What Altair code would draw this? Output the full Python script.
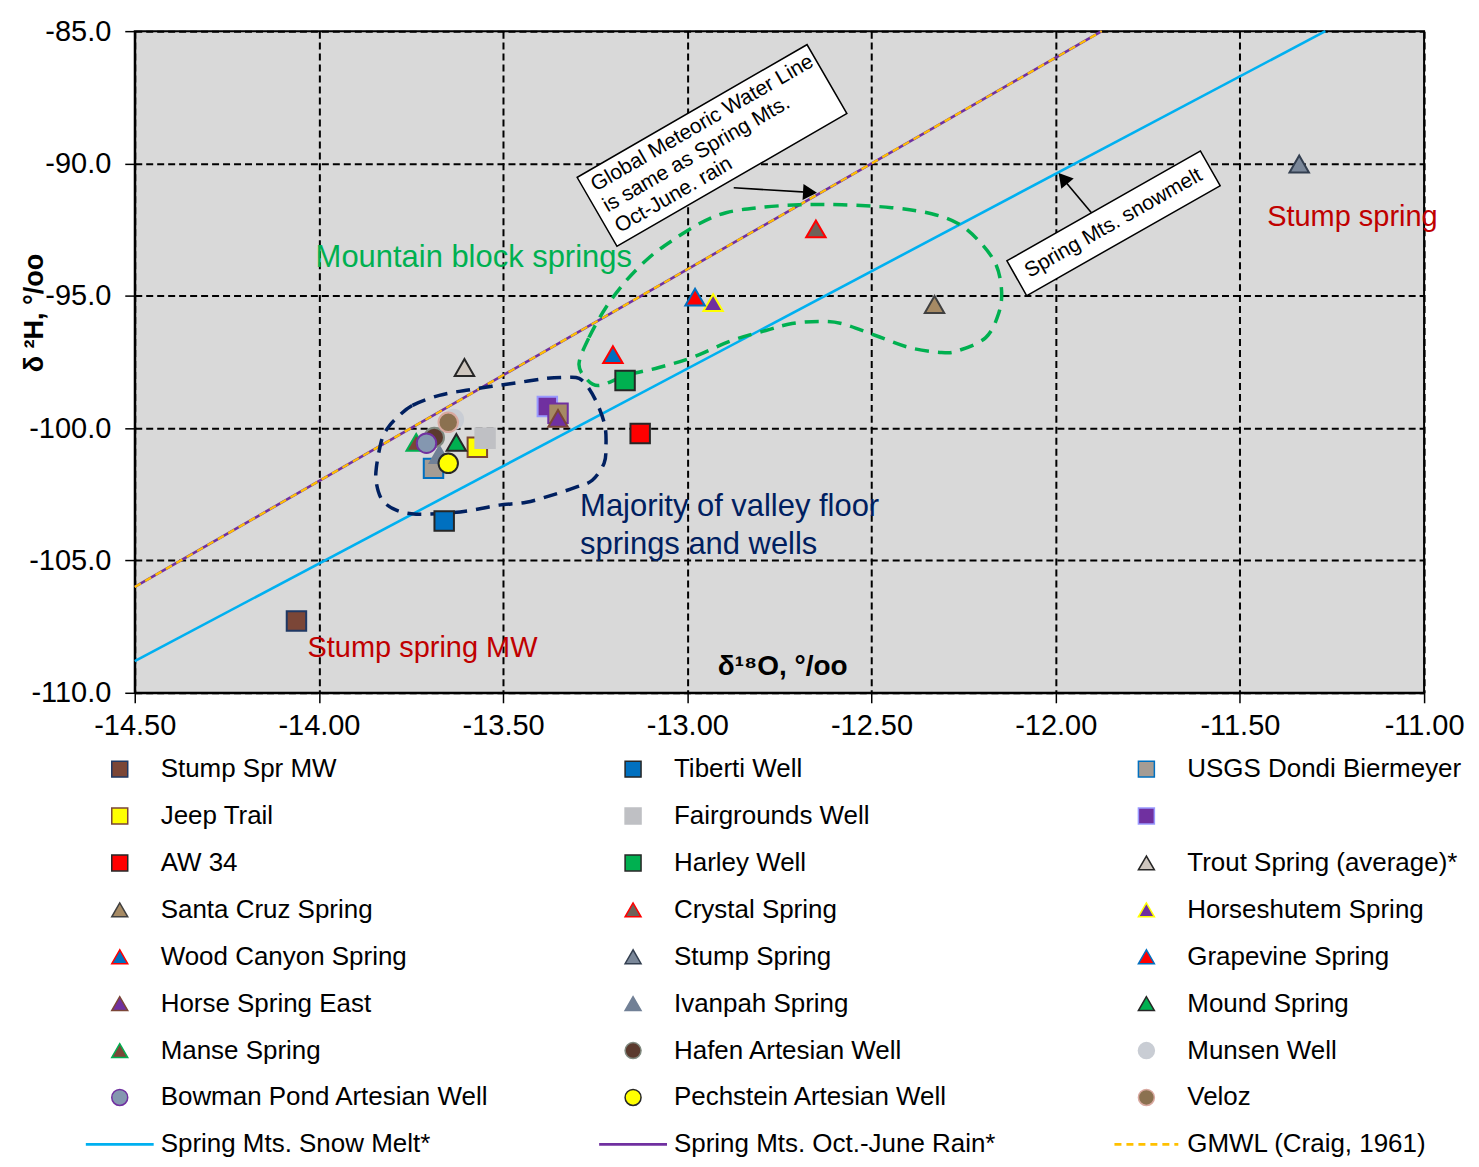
import altair as alt
import pandas as pd

FONT = "Liberation Sans"

# ---------------- data ----------------
site_names = [
    "Stump Spr MW", "Tiberti Well", "USGS Dondi Biermeyer", "Jeep Trail", "Fairgrounds Well",
    "Unnamed well", "Unlisted site", "AW 34", "Harley Well", "Trout Spring (average)*",
    "Santa Cruz Spring", "Crystal Spring", "Horseshutem Spring", "Wood Canyon Spring",
    "Stump Spring", "Grapevine Spring", "Horse Spring East", "Ivanpah Spring", "Mound Spring",
    "Manse Spring", "Hafen Artesian Well", "Munsen Well", "Bowman Pond Artesian Well",
    "Pechstein Artesian Well", "Veloz",
]
site_d18O = [
    -14.061, -13.660, -13.689, -13.570, -13.549,
    -13.380, -13.351, -13.128, -13.169, -13.605,
    -12.329, -12.651, -12.930, -13.202,
    -11.339, -12.979, -13.351, -13.673, -13.627,
    -13.736, -13.687, -13.635, -13.708,
    -13.649, -13.649,
]
site_d2H = [
    -107.29, -103.51, -101.52, -100.72, -100.38,
    -99.18, -99.44, -100.20, -98.20, -97.71,
    -95.33, -92.47, -95.26, -97.22,
    -90.02, -95.05, -99.63, -101.00, -100.54,
    -100.54, -100.35, -99.67, -100.57,
    -101.33, -99.78,
]

line_names = ["Spring Mts. Snow Melt*", "Spring Mts. Oct.-June Rain*", "GMWL (Craig, 1961)"]
line_d18O_start = [-14.5, -14.5, -14.5]
line_d18O_end = [-11.268, -11.875, -11.875]
line_d2H_start = [-108.8, -106.0, -106.0]
line_d2H_end = [-85.0, -85.0, -85.0]

x_ticks = [-14.5, -14.0, -13.5, -13.0, -12.5, -12.0, -11.5, -11.0]
y_ticks = [-110, -105, -100, -95, -90, -85]

green_loop_d18O = [-13.294, -13.267, -13.221, -13.166, -13.104, -13.042, -12.968, -12.895,
                   -12.806, -12.697, -12.581, -12.445, -12.337, -12.264, -12.209, -12.163,
                   -12.147, -12.155, -12.190, -12.264, -12.310, -12.399, -12.489, -12.581,
                   -12.643, -12.716, -12.787, -12.879, -12.987, -13.077, -13.166, -13.240,
                   -13.275]
green_loop_d2H = [-97.56, -96.58, -95.44, -94.43, -93.56, -92.92, -92.28, -91.86,
                  -91.67, -91.56, -91.56, -91.67, -91.90, -92.28, -92.92, -93.79,
                  -94.80, -95.67, -96.58, -97.07, -97.14, -96.95, -96.50, -96.05,
                  -95.97, -96.05, -96.31, -96.69, -97.33, -97.71, -98.01, -98.39,
                  -98.12]

navy_loop_d18O = [-13.790, -13.746, -13.673, -13.600, -13.530, -13.456, -13.383, -13.329,
                  -13.294, -13.267, -13.240, -13.223, -13.221, -13.226, -13.258, -13.302,
                  -13.367, -13.437, -13.511, -13.584, -13.654, -13.736, -13.790, -13.828,
                  -13.844, -13.844, -13.830, -13.814]
navy_loop_d2H = [-99.63, -99.14, -98.76, -98.57, -98.42, -98.27, -98.12, -98.08,
                 -98.12, -98.50, -99.22, -99.97, -100.72, -101.33, -101.97, -102.23,
                 -102.53, -102.80, -102.91, -103.10, -103.21, -103.25, -103.10, -102.72,
                 -102.08, -101.48, -100.46, -100.01]

legend_entries = [
    "Stump Spr MW", "Tiberti Well", "USGS Dondi Biermeyer",
    "Jeep Trail", "Fairgrounds Well", "Unnamed well",
    "AW 34", "Harley Well", "Trout Spring (average)*",
    "Santa Cruz Spring", "Crystal Spring", "Horseshutem Spring",
    "Wood Canyon Spring", "Stump Spring", "Grapevine Spring",
    "Horse Spring East", "Ivanpah Spring", "Mound Spring",
    "Manse Spring", "Hafen Artesian Well", "Munsen Well",
    "Bowman Pond Artesian Well", "Pechstein Artesian Well", "Veloz",
    "Spring Mts. Snow Melt*", "Spring Mts. Oct.-June Rain*", "GMWL (Craig, 1961)",
]
legend_hidden_labels = ["Unnamed well"]

# ---------------- styles ----------------
STYLE = {
    "Stump Spr MW": ("square", "#7B4637", "#1F3864"),
    "Tiberti Well": ("square", "#0070C0", "#262626"),
    "USGS Dondi Biermeyer": ("square", "#A59C94", "#0070C0"),
    "Jeep Trail": ("square", "#FFFF00", "#7B4637"),
    "Fairgrounds Well": ("square", "#BFC0C4", "#BFC0C4"),
    "Unnamed well": ("square", "#7030A0", "#9999FF"),
    "Unlisted site": ("square", "#A68A64", "#7030A0"),
    "AW 34": ("square", "#FF0000", "#262626"),
    "Harley Well": ("square", "#00B050", "#262626"),
    "Trout Spring (average)*": ("triangle-up", "#CFC7BF", "#262626"),
    "Santa Cruz Spring": ("triangle-up", "#A68A64", "#404040"),
    "Crystal Spring": ("triangle-up", "#6E6259", "#FF0000"),
    "Horseshutem Spring": ("triangle-up", "#7030A0", "#FFFF00"),
    "Wood Canyon Spring": ("triangle-up", "#0070C0", "#FF0000"),
    "Stump Spring": ("triangle-up", "#7A8799", "#333F50"),
    "Grapevine Spring": ("triangle-up", "#FF0000", "#0070C0"),
    "Horse Spring East": ("triangle-up", "#7030A0", "#7B4637"),
    "Ivanpah Spring": ("triangle-up", "#718096", "#718096"),
    "Mound Spring": ("triangle-up", "#00B050", "#262626"),
    "Manse Spring": ("triangle-up", "#7B4637", "#00B050"),
    "Hafen Artesian Well": ("circle", "#5B3A2E", "#808A80"),
    "Munsen Well": ("circle", "#C9CDD4", "#C9CDD4"),
    "Bowman Pond Artesian Well": ("circle", "#8497B0", "#7030A0"),
    "Pechstein Artesian Well": ("circle", "#FFFF00", "#262626"),
    "Veloz": ("circle", "#8B7150", "#D9A9A0"),
}
LINE_COLOR = {
    "Spring Mts. Snow Melt*": "#00B0F0",
    "Spring Mts. Oct.-June Rain*": "#7030A0",
    "GMWL (Craig, 1961)": "#FFC000",
}

W, H = 1292, 663

xs = alt.Scale(domain=[-14.5, -11.0], nice=False, zero=False)
ys = alt.Scale(domain=[-110, -85], nice=False, zero=False)

x_axis = alt.Axis(values=x_ticks, labelExpr="replace(format(datum.value, '.2f'), '\u2212', '-')",
                  labelFontSize=29, labelColor="black", labelFlush=False, labelOverlap=False,
                  tickSize=10, tickColor="black", tickWidth=1.5, labelPadding=9,
                  domainColor="black", domainWidth=2, grid=True, gridColor="black",
                  gridDash=[7, 4], gridWidth=2, title=None)
y_axis = alt.Axis(values=y_ticks, labelExpr="replace(format(datum.value, '.1f'), '\u2212', '-')",
                  labelFontSize=29, labelColor="black", labelFlush=False, labelOverlap=False,
                  tickSize=10, tickColor="black", tickWidth=1.5, labelPadding=14,
                  domainColor="black", domainWidth=2, grid=True, gridColor="black",
                  gridDash=[7, 4], gridWidth=2,
                  title="\u03b4 \u00b2H, \u00b0/oo", titleFontSize=27, titleFontWeight="bold",
                  titleColor="black", titleX=-100, titleY=282, titleAngle=270,
                  titleAlign="center", titleBaseline="middle")

pts = pd.DataFrame({
    "name": site_names, "x": site_d18O, "y": site_d2H,
    "shape": [STYLE[n][0] for n in site_names],
    "fill": [STYLE[n][1] for n in site_names],
    "stroke": [STYLE[n][2] for n in site_names],
    "order": list(range(len(site_names))),
})

base_axes = alt.Chart(pts).mark_point(opacity=0).encode(
    x=alt.X("x:Q", scale=xs, axis=x_axis),
    y=alt.Y("y:Q", scale=ys, axis=y_axis),
)

# lines
line_layers = []
for i, n in enumerate(line_names):
    dfl = pd.DataFrame({"x": [line_d18O_start[i], line_d18O_end[i]],
                        "y": [line_d2H_start[i], line_d2H_end[i]]})
    kw = dict(color=LINE_COLOR[n], strokeWidth=2.6)
    if n.startswith("GMWL"):
        kw = dict(color=LINE_COLOR[n], strokeWidth=2.2, strokeDash=[7, 5])
    line_layers.append(alt.Chart(dfl).mark_line(**kw).encode(
        x=alt.X("x:Q", scale=xs), y=alt.Y("y:Q", scale=ys)))

green_df = pd.DataFrame({"x": green_loop_d18O, "y": green_loop_d2H,
                         "o": list(range(len(green_loop_d18O)))})
navy_df = pd.DataFrame({"x": navy_loop_d18O, "y": navy_loop_d2H,
                        "o": list(range(len(navy_loop_d18O)))})
green_loop = alt.Chart(green_df).mark_line(interpolate="cardinal-closed", color="#00B050",
                                           strokeWidth=3.5, strokeDash=[14, 9]).encode(
    x=alt.X("x:Q", scale=xs), y=alt.Y("y:Q", scale=ys), order="o:Q")
navy_loop = alt.Chart(navy_df).mark_line(interpolate="cardinal-closed", color="#002060",
                                         strokeWidth=3.5, strokeDash=[14, 9]).encode(
    x=alt.X("x:Q", scale=xs), y=alt.Y("y:Q", scale=ys), order="o:Q")

points = alt.Chart(pts).mark_point(filled=True, size=380, strokeWidth=2, opacity=1).encode(
    x=alt.X("x:Q", scale=xs), y=alt.Y("y:Q", scale=ys),
    shape=alt.Shape("shape:N", scale=None),
    fill=alt.Fill("fill:N", scale=None),
    stroke=alt.Stroke("stroke:N", scale=None),
    order=alt.Order("order:Q"),
)

# annotation boxes (white rotated rectangles with text)
box_df = pd.DataFrame({"x": [-12.933], "y": [-89.32]})
box1 = alt.Chart(box_df).mark_point(shape="M-1,-0.3L1,-0.3L1,0.3L-1,0.3Z", size=70756, angle=330,
                                    filled=True, fill="white", stroke="black", strokeWidth=1.5,
                                    opacity=1).encode(x=alt.X("x:Q", scale=xs), y=alt.Y("y:Q", scale=ys))
box1_text = alt.Chart(box_df).mark_text(
    text=["Global Meteoric Water Line", "is same as Spring Mts.", "Oct-June. rain"],
    align="left", baseline="middle", angle=330, dx=-124, dy=-24, fontSize=21, lineHeight=24,
    color="black").encode(x=alt.X("x:Q", scale=xs), y=alt.Y("y:Q", scale=ys))

box2_df = pd.DataFrame({"x": [-11.843], "y": [-92.26]})
box2 = alt.Chart(box2_df).mark_point(shape="M-1,-0.18L1,-0.18L1,0.18L-1,0.18Z", size=49729, angle=330.4,
                                     filled=True, fill="white", stroke="black", strokeWidth=1.5,
                                     opacity=1).encode(x=alt.X("x:Q", scale=xs), y=alt.Y("y:Q", scale=ys))
box2_text = alt.Chart(box2_df).mark_text(text="Spring Mts. snowmelt", align="center", baseline="middle",
                                         angle=330.4, fontSize=21, color="black").encode(
    x=alt.X("x:Q", scale=xs), y=alt.Y("y:Q", scale=ys))

arrow_df = pd.DataFrame({"x": [-12.874, -11.903], "y": [-90.92, -91.86],
                         "x2": [-12.655, -11.985], "y2": [-91.10, -90.50]})
arrow_lines = alt.Chart(arrow_df).mark_rule(color="black", strokeWidth=1.6).encode(
    x=alt.X("x:Q", scale=xs), y=alt.Y("y:Q", scale=ys), x2="x2:Q", y2="y2:Q")
head_df = pd.DataFrame({"x": [-12.667, -11.980], "y": [-91.09, -90.56], "angle": [3.4, 230.5]})
arrow_heads = alt.Chart(head_df).mark_point(shape="triangle-right", size=260, filled=True,
                                            color="black", opacity=1).encode(
    x=alt.X("x:Q", scale=xs), y=alt.Y("y:Q", scale=ys), angle=alt.Angle("angle:Q", scale=None))

# text labels
lab_df = pd.DataFrame({
    "text": ["Mountain block springs", "Majority of valley floor", "springs and wells",
             "Stump spring", "Stump spring MW"],
    "x": [-14.009, -13.291, -13.291, -11.426, -14.031],
    "y": [-93.56, -102.99, -104.42, -92.01, -108.30],
    "color": ["#00B050", "#002060", "#002060", "#C00000", "#C00000"],
    "fs": [31, 31, 31, 29, 29],
})
labels = alt.Chart(lab_df).mark_text(align="left", baseline="middle").encode(
    x=alt.X("x:Q", scale=xs), y=alt.Y("y:Q", scale=ys), text="text:N",
    color=alt.Color("color:N", scale=None), size=alt.Size("fs:Q", scale=None))

xt_df = pd.DataFrame({"x": [-12.741], "y": [-109.02]})
x_title = alt.Chart(xt_df).mark_text(text="\u03b4\u00b9\u2078O, \u00b0/oo", fontSize=28, fontWeight="bold",
                                     align="center", baseline="middle", color="black").encode(
    x=alt.X("x:Q", scale=xs), y=alt.Y("y:Q", scale=ys))

main = alt.layer(base_axes, *line_layers, green_loop, navy_loop, points, arrow_lines, arrow_heads,
                 box1, box1_text, box2, box2_text, labels, x_title).properties(
    width=W, height=H,
    view=alt.ViewBackground(fill="#D9D9D9", stroke="black", strokeWidth=2),
)

# ---------------- legend (drawn as its own panel) ----------------
rows = []
for i, n in enumerate(legend_entries):
    r, c = divmod(i, 3)
    label = "" if n in legend_hidden_labels else n
    if n in STYLE:
        kind, shp, fil, stk = "pt", STYLE[n][0], STYLE[n][1], STYLE[n][2]
    else:
        kind, shp, fil, stk = ("dash" if n.startswith("GMWL") else "line"), "stroke", LINE_COLOR[n], LINE_COLOR[n]
    rows.append({"row": r, "col": c, "label": label, "kind": kind, "shape": shp, "fill": fil, "stroke": stk})
leg = pd.DataFrame(rows)

lx = alt.Scale(domain=[0.0292, 2.5410], nice=False, zero=False)
ly = alt.Scale(domain=[-0.5, 8.5], nice=False, zero=False, reverse=True)
lbase = alt.Chart(leg)
leg_pts = lbase.transform_filter("datum.kind == 'pt'").mark_point(
    filled=True, size=256, strokeWidth=1.5, opacity=1).encode(
    x=alt.X("col:Q", scale=lx, axis=None), y=alt.Y("row:Q", scale=ly, axis=None),
    shape=alt.Shape("shape:N", scale=None), fill=alt.Fill("fill:N", scale=None),
    stroke=alt.Stroke("stroke:N", scale=None))
leg_lines = lbase.transform_filter("datum.kind == 'line'").mark_point(
    shape="stroke", size=4624, strokeWidth=2.6, opacity=1).encode(
    x=alt.X("col:Q", scale=lx, axis=None), y=alt.Y("row:Q", scale=ly, axis=None),
    stroke=alt.Stroke("stroke:N", scale=None))
leg_dash = lbase.transform_filter("datum.kind == 'dash'").mark_point(
    shape="stroke", size=4096, strokeWidth=2.6, strokeDash=[7, 5], opacity=1).encode(
    x=alt.X("col:Q", scale=lx, axis=None), y=alt.Y("row:Q", scale=ly, axis=None),
    stroke=alt.Stroke("stroke:N", scale=None))
leg_text = lbase.mark_text(align="left", baseline="middle", dx=41, fontSize=26, color="black").encode(
    x=alt.X("col:Q", scale=lx, axis=None), y=alt.Y("row:Q", scale=ly, axis=None), text="label:N")

legend = alt.layer(leg_pts, leg_lines, leg_dash, leg_text).properties(width=W, height=423)

chart = alt.vconcat(main, legend, spacing=3).properties(
    padding={"left": 12, "top": 7, "right": 5, "bottom": 0}
).configure(font=FONT).configure_view(stroke="transparent")

chart.save("out.html", embed_options={"renderer": "svg", "actions": False})
